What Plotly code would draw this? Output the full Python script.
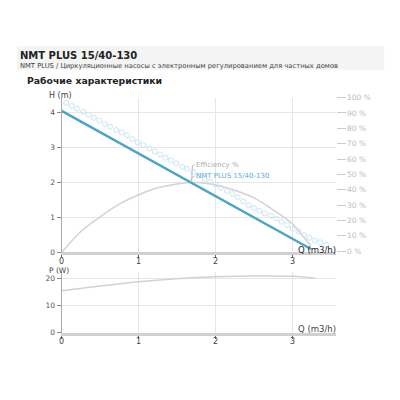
import plotly.graph_objects as go

# pump curve (H, m) vs flow Q (m3/h)
q_pump = [0, 1, 2, 3, 3.24]
h_pump = [4.05, 2.83, 1.60, 0.39, 0.10]

# max curve, drawn as open circles
q_max = [0.06, 0.13, 0.20, 0.28, 0.35, 0.42, 0.49, 0.56, 0.63, 0.71, 0.78, 0.85,
         0.92, 0.99, 1.06, 1.14, 1.21, 1.28, 1.35, 1.42, 1.49, 1.57, 1.63, 1.71,
         1.78, 1.86, 1.93, 2.00, 2.07, 2.15, 2.22, 2.29, 2.36, 2.43, 2.50, 2.57,
         2.64, 2.72, 2.79, 2.86, 2.93, 3.00, 3.08, 3.15, 3.22, 3.29, 3.36, 3.44]
h_max = [4.28, 4.19, 4.11, 4.02, 3.94, 3.85, 3.77, 3.67, 3.60, 3.50, 3.43, 3.35,
         3.24, 3.15, 3.07, 2.98, 2.89, 2.80, 2.71, 2.63, 2.55, 2.45, 2.39, 2.30,
         2.20, 2.10, 2.02, 1.94, 1.85, 1.76, 1.67, 1.58, 1.46, 1.35, 1.27, 1.19,
         1.12, 1.05, 0.97, 0.88, 0.78, 0.68, 0.60, 0.50, 0.42, 0.34, 0.29, 0.22]

# efficiency curve (plotted on H scale)
q_eff = [0, 0.25, 0.5, 0.75, 1.0, 1.25, 1.5, 1.75, 2.0, 2.25, 2.5, 2.75, 3.0, 3.13, 3.24]
h_eff = [0, 0.6, 1.02, 1.38, 1.65, 1.85, 1.96, 2.0, 1.93, 1.78, 1.56, 1.22, 0.82, 0.48, 0.2]

# power P (W)
q_pow = [0, 0.5, 1, 1.5, 2, 2.5, 3, 3.3]
p_pow = [15.5, 17.3, 18.9, 20.0, 20.7, 21.0, 20.9, 20.2]

eff_ticks = [0, 10, 20, 30, 40, 50, 60, 70, 80, 90, 100]
eff_labels = [f"{v} %" for v in eff_ticks]

BLUE = "#4ea4c4"
GRID = "#e6e6e6"
FONT = "DejaVu Sans"


# page has a body margin, so convert screen pixels to paper coords
def px(x):
    return (x - 10) / 400


def py(y):
    return 1 - (y - 8) / 400


fig = go.Figure()
fig.add_trace(go.Scatter(x=q_eff, y=h_eff, mode="lines",
                         line=dict(color="#d2d2d2", width=1.5, shape="spline", smoothing=0.8),
                         xaxis="x", yaxis="y", hoverinfo="skip"))
fig.add_trace(go.Scatter(x=q_max, y=h_max, mode="markers",
                         marker=dict(symbol="circle-open", size=5, color="#c8e6f4", line=dict(width=1)),
                         xaxis="x", yaxis="y", hoverinfo="skip"))
fig.add_trace(go.Scatter(x=q_pump, y=h_pump, mode="lines", line=dict(color=BLUE, width=2.5),
                         xaxis="x", yaxis="y", hoverinfo="skip"))
fig.add_trace(go.Scatter(x=q_pow, y=p_pow, mode="lines", line=dict(color="#d2d2d2", width=1.5, shape="spline"),
                         xaxis="x2", yaxis="y3", hoverinfo="skip"))
# dummy trace so the % axis is drawn
fig.add_trace(go.Scatter(x=[0], y=[0], xaxis="x", yaxis="y2", mode="markers",
                         marker=dict(opacity=0), showlegend=False, hoverinfo="skip"))

xcommon = dict(range=[0, 3.56], tickvals=[0, 1, 2, 3], showgrid=True, gridcolor=GRID, zeroline=False,
               showline=True, linecolor="#d0d0d0", linewidth=3, ticks="outside", ticklen=3,
               tickcolor="#666", tickfont=dict(size=8, color="#444", family=FONT),
               ticklabelstandoff=-4, fixedrange=True)
ycommon = dict(showgrid=True, gridcolor=GRID, zeroline=False, showline=True, linecolor="#aaa",
               linewidth=1, ticks="outside", ticklen=4, tickcolor="#888",
               tickfont=dict(size=7.5, color="#555", family=FONT))

fig.update_layout(
    width=400, height=400, margin=dict(l=0, r=0, t=0, b=0),
    paper_bgcolor="white", plot_bgcolor="white", showlegend=False,
    xaxis=dict(domain=[px(61), px(337)], anchor="y", **xcommon),
    yaxis=dict(domain=[py(254), py(95.5)], range=[0, 4.43], tickvals=[0, 1, 2, 3, 4], anchor="x", **ycommon),
    yaxis2=dict(overlaying="y", side="right", anchor="x", type="linear", range=[-0.8, 100],
                tickvals=eff_ticks, ticktext=eff_labels, showgrid=False, zeroline=False, showline=False,
                ticks="outside", ticklen=9, tickcolor="#ccc",
                tickfont=dict(size=7.5, color="#bbb", family=FONT)),
    xaxis2=dict(domain=[px(61), px(337)], anchor="y3", **xcommon),
    yaxis3=dict(domain=[py(336), py(274)], range=[0, 22.5], tickvals=[0, 10, 20], anchor="x2", **ycommon),
)

# header band
fig.add_shape(type="rect", xref="paper", yref="paper", x0=px(16), x1=px(386), y0=py(67), y1=py(43),
              fillcolor="#f4f4f4", line=dict(width=0), layer="below")

# leader lines for curve labels
fig.add_shape(type="path", xref="x", yref="y", path="M 1.73,2.51 L 1.70,2.48 L 1.69,2.06",
              line=dict(color="#aaa", width=0.8))
fig.add_shape(type="path", xref="x", yref="y", path="M 1.73,2.18 L 1.70,2.15 L 1.67,2.01",
              line=dict(color="#aaa", width=0.8))

texts = [
    dict(text="<b>NMT PLUS 15/40-130</b>", x=17, y=52, size=10, color="#222"),
    dict(text="NMT PLUS / Циркуляционные насосы с электронным регулированием для частных домов",
         x=17, y=63, size=6.75, color="#444"),
    dict(text="<b>Рабочие характеристики</b>", x=24, y=78, size=9.3, color="#222"),
    dict(text="H (m)", x=46, y=93, size=8, color="#444"),
    dict(text="P (W)", x=46, y=272, size=7.5, color="#444"),
    dict(text="Q (m3/h)", x=297, y=251, size=8.5, color="#222"),
    dict(text="Q (m3/h)", x=297, y=332, size=8.5, color="#444"),
]
for t in texts:
    fig.add_annotation(text=t["text"], x=px(t["x"]), y=py(t["y"]), xref="paper", yref="paper", xanchor="left",
                       yanchor="middle", showarrow=False,
                       font=dict(size=t["size"], color=t["color"], family=FONT))

fig.add_annotation(text="Efficiency %", x=1.72, y=2.51, xref="x", yref="y", xanchor="left", yanchor="middle",
                   showarrow=False, font=dict(size=7, color="#aaa", family=FONT))
fig.add_annotation(text="NMT PLUS 15/40-130", x=1.72, y=2.18, xref="x", yref="y", xanchor="left",
                   yanchor="middle", showarrow=False, font=dict(size=7, color="#5aaed0", family=FONT))

fig.write_html("out.html")
